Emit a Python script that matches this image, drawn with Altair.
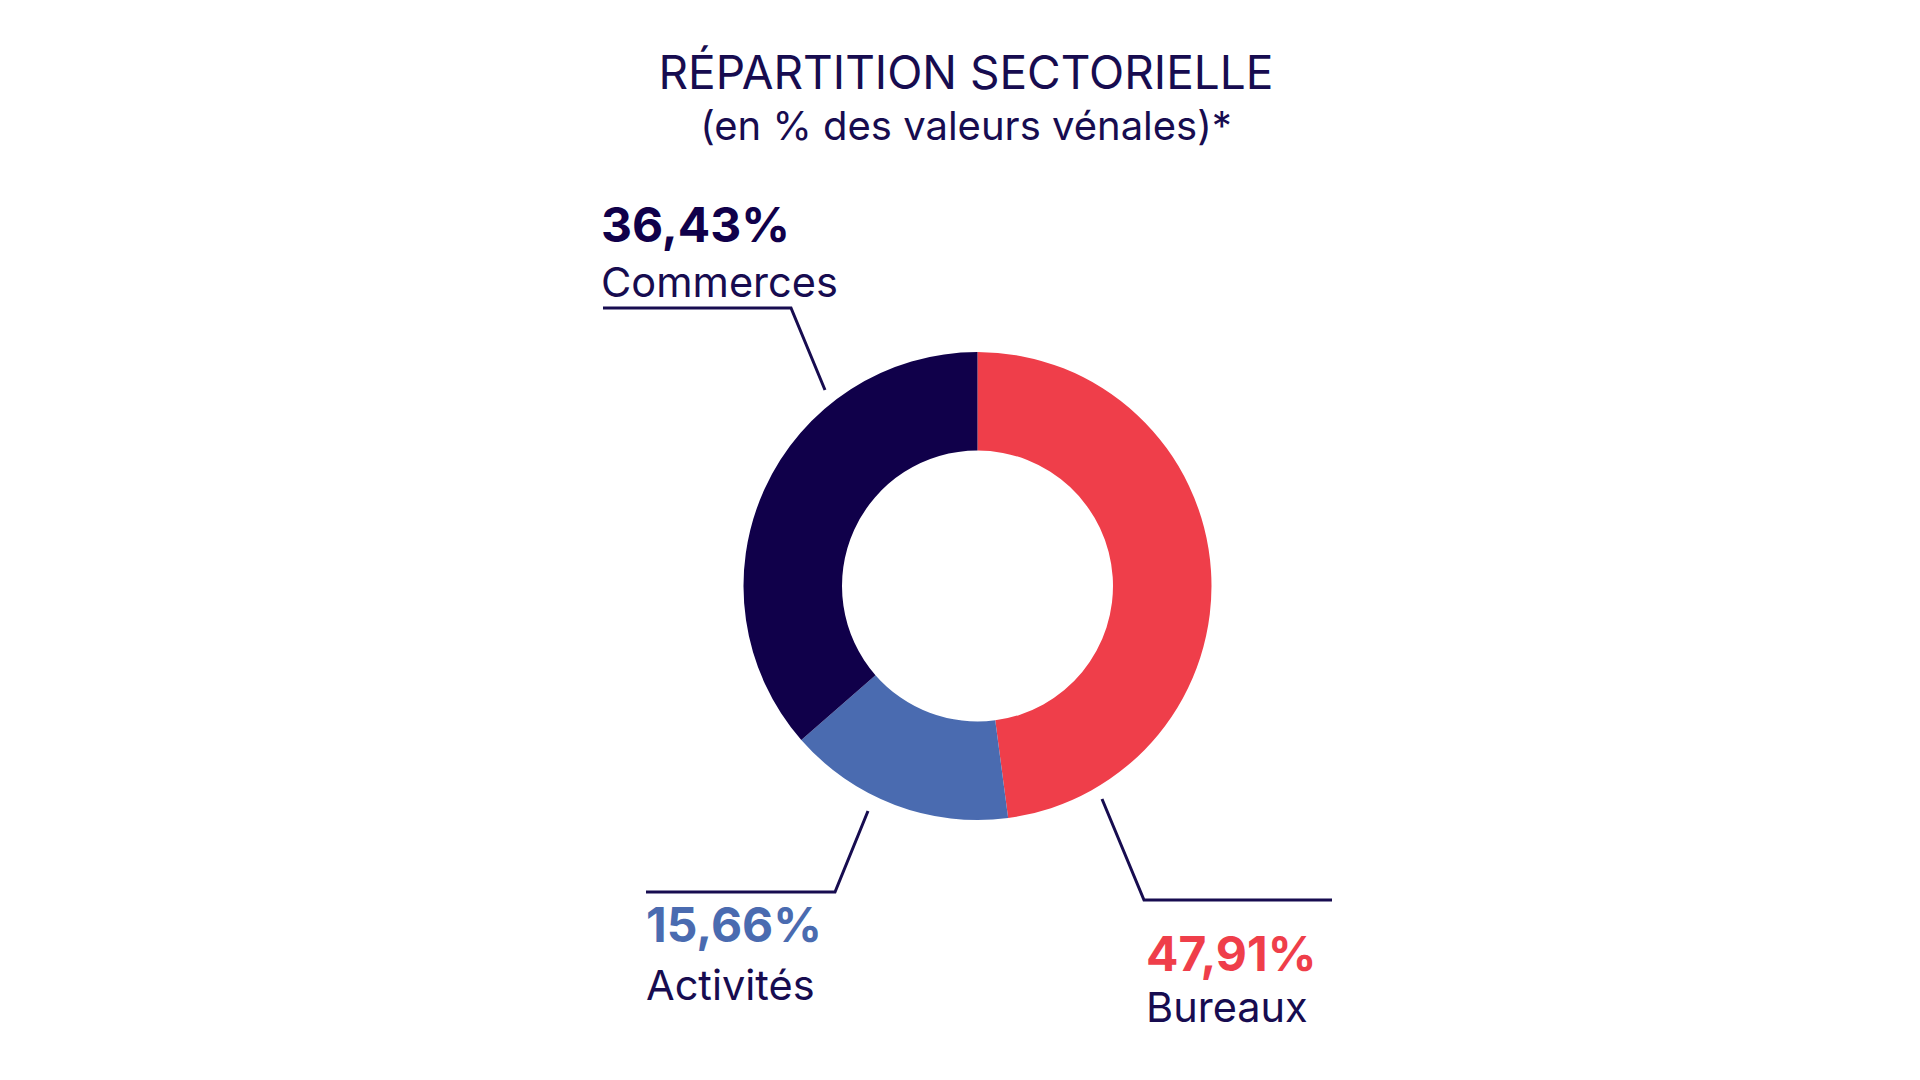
import altair as alt
import pandas as pd

# ---- data ----
categories = ["Bureaux", "Activités", "Commerces"]
values = [47.91, 15.66, 36.43]
colors = ["#EF3E4A", "#4A6BB0", "#10004A"]
pct_colors = ["#EF3E4A", "#4A6BB0", "#10004A"]
title_text = "RÉPARTITION SECTORIELLE"
subtitle_text = "(en % des valeurs vénales)*"

NAVY = "#170C50"
FONT = "Inter"
W, H = 1904, 1064
M = 8  # page margin

# ---- layout (page pixel coordinates of the annotations) ----
cx, cy = 977.5, 586.0
r_out, r_in = 234, 135.5
label_anchor = {  # left x, baseline of percentage, baseline of name
    "Commerces": (601, 242, 297),
    "Activités": (646, 942, 1000),
    "Bureaux": (1146, 971, 1022),
}
leader = {
    "Commerces": [(603, 308), (791, 308), (825, 390)],
    "Activités": [(646, 892), (835, 892), (868, 811)],
    "Bureaux": [(1102, 799), (1144, 900), (1332, 900)],
}

def fr_pct(v):
    return f"{v:.2f}".replace(".", ",") + "%"

df = pd.DataFrame({"cat": categories, "val": values, "ordre": list(range(len(categories)))})

xs = alt.Scale(domain=[M, M + W], nice=False, zero=False)
ys = alt.Scale(domain=[M, M + H], nice=False, zero=False, reverse=True)

donut = alt.Chart(df).mark_arc(
    radius=r_out, radius2=r_in, x=cx - M, y=cy - M, stroke=None
).encode(
    theta=alt.Theta("val:Q", stack=True),
    order=alt.Order("ordre:Q", sort="ascending"),
    color=alt.Color("cat:N", scale=alt.Scale(domain=categories, range=colors), legend=None),
)

pct_rows, name_rows = [], []
for c, v, pc in zip(categories, values, pct_colors):
    lx, yb1, yb2 = label_anchor[c]
    pct_rows.append({"x": lx, "y": yb1, "t": fr_pct(v), "col": pc})
    name_rows.append({"x": lx, "y": yb2, "t": c})

pct_text = alt.Chart(pd.DataFrame(pct_rows)).mark_text(
    align="left", baseline="alphabetic", font=FONT, fontSize=48, fontWeight=700
).encode(
    x=alt.X("x:Q", scale=xs, axis=None),
    y=alt.Y("y:Q", scale=ys, axis=None),
    text="t:N",
    color=alt.Color("col:N", scale=None),
)

name_text = alt.Chart(pd.DataFrame(name_rows)).mark_text(
    align="left", baseline="alphabetic", font=FONT, fontSize=41.5, fontWeight=400, color=NAVY
).encode(
    x=alt.X("x:Q", scale=xs, axis=None),
    y=alt.Y("y:Q", scale=ys, axis=None),
    text="t:N",
)

line_rows = []
for c, pts in leader.items():
    for i, (px, py) in enumerate(pts):
        line_rows.append({"cat": c, "i": i, "x": px, "y": py})

lines = alt.Chart(pd.DataFrame(line_rows)).mark_line(
    color=NAVY, strokeWidth=3, strokeCap="butt", strokeJoin="miter"
).encode(
    x=alt.X("x:Q", scale=xs, axis=None),
    y=alt.Y("y:Q", scale=ys, axis=None),
    detail="cat:N",
    order="i:Q",
)

titles = alt.Chart(pd.DataFrame([
    {"x": 966, "y": 89, "t": title_text, "s": 46},
    {"x": 966, "y": 140, "t": subtitle_text, "s": 40},
])).mark_text(
    align="center", baseline="alphabetic", font=FONT, color=NAVY
).encode(
    x=alt.X("x:Q", scale=xs, axis=None),
    y=alt.Y("y:Q", scale=ys, axis=None),
    text="t:N",
    size=alt.Size("s:Q", scale=None, legend=None),
)

chart = alt.layer(donut, lines, pct_text, name_text, titles).properties(
    width=W, height=H, padding=0, autosize=alt.AutoSizeParams(type="none"),
    background="white",
).configure_view(stroke=None)

chart.save("out.html", embed_options={"renderer": "svg", "actions": False})
